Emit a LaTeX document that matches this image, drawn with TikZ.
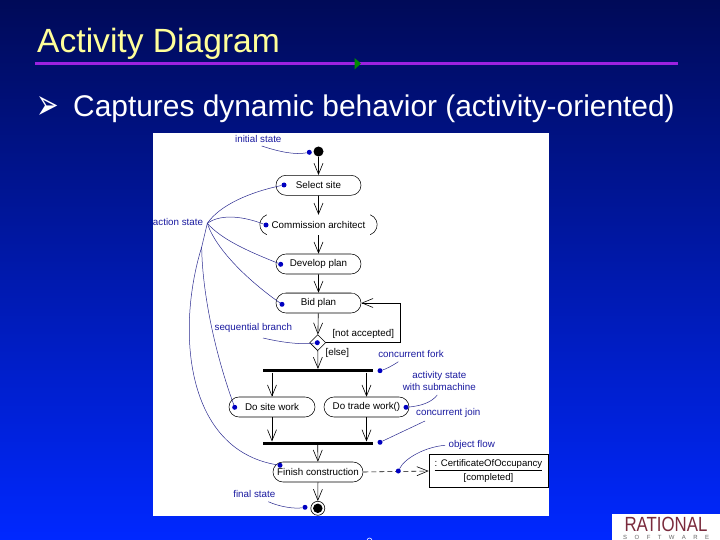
\documentclass[tikz,border=0pt]{standalone}
\usepackage{fontspec}
\setmainfont{Liberation Sans}
\newfontfamily\dejavu{DejaVu Sans}
\newfontfamily\softf[LetterSpace=124]{Liberation Sans}
\usetikzlibrary{shapes.geometric,shapes.misc,arrows.meta}
\definecolor{ann}{HTML}{1A1AA0}
\definecolor{annline}{HTML}{2A2A90}
\definecolor{dotblue}{HTML}{0000C0}
\definecolor{rulepurple}{HTML}{9C22E0}
\definecolor{maroon}{HTML}{7A2A3C}
\definecolor{bgtop}{HTML}{000A58}
\definecolor{bgmid}{HTML}{0018B0}
\definecolor{bgbot}{HTML}{0028FF}
\tikzset{
  act/.style={draw=black,line width=.55pt,rounded rectangle,minimum height=20bp,inner sep=0pt,font=\fontsize{9.8bp}{11bp}\selectfont,text=black},
  flow/.style={draw=black,line width=.6pt,-{Straight Barb[length=11bp,width=9bp,line width=.6pt]}},
  bar/.style={fill=black,draw=none,minimum height=3.2bp,inner sep=0pt},
  lbl/.style={text=ann,font=\fontsize{9.8bp}{12bp}\selectfont,inner sep=0pt,align=center},
  guard/.style={text=black,font=\fontsize{9.8bp}{12bp}\selectfont,inner sep=0pt},
  dot/.style={circle,fill=dotblue,draw=none,minimum size=5bp,inner sep=0pt},
  cn/.style={draw=annline,line width=.5pt},
}
\begin{document}
\begin{tikzpicture}[x=1bp,y=-1bp]
\useasboundingbox (0,0) rectangle (720,540);
\shade[top color=bgtop,middle color=bgmid,bottom color=bgbot] (0,0) rectangle (720,540);
\fill[white] (153,133) rectangle (549,516);
% title
\node[anchor=base west,inner sep=0pt,text={rgb,255:red,255;green,255;blue,153},font=\fontsize{33.6bp}{36bp}\selectfont] (title) at (37,52.5) {Activity Diagram};
\coordinate (ruleL) at (35,63.5);
\coordinate (ruleR) at (678,63.5);
\draw[rulepurple,line width=2.2bp] (ruleL) -- (ruleR);
\fill[green!55!black] (354.5,58) -- (361,63.5) -- (354.5,69.5) -- cycle;
\node[anchor=base west,inner sep=0pt,text=white,yscale=1.6,font=\dejavu\fontsize{27bp}{28bp}\selectfont] (bullet) at (36,119.5) {➢};
\node[anchor=base west,inner sep=0pt,text=white,font=\fontsize{29.9bp}{32bp}\selectfont] (sub) at (73,117) {Captures dynamic behavior (activity-oriented)};
% activity nodes
\node[circle,fill=black,minimum size=10bp,inner sep=0pt] (init) at (318.5,151.5) {};
\node[act,minimum width=85bp] (select) at (318.5,185.3) {Select site};
\node[font=\fontsize{9.8bp}{11bp}\selectfont,minimum width=117bp,minimum height=20bp,inner sep=0pt] (com) at (318.5,225) {Commission architect};
\draw[line width=.55pt] ([xshift=7bp]com.north west) arc[start angle=110,end angle=250,radius=10.6bp];
\draw[line width=.55pt] ([xshift=-7bp]com.north east) arc[start angle=70,end angle=-70,radius=10.6bp];
\node[act,minimum width=85bp] (dev) at (318.5,264) {Develop plan};
\node[act,minimum width=85bp] (bid) at (318.5,303) {Bid plan};
\draw[gray,line width=1bp] (283,293) -- (354,293);
\node[diamond,draw=black,line width=.55pt,minimum width=16bp,minimum height=16bp,inner sep=0pt,fill=white] (dec) at (317.7,342.7) {};
\node[bar,minimum width=110bp] (fork) at (318,370.7) {};
\node[act,minimum width=86bp] (site) at (272,407) {Do site work};
\node[act,minimum width=85bp] (trade) at (366.5,407) {Do trade work()};
\node[bar,minimum width=110bp] (join) at (317.7,443.3) {};
\node[act,minimum width=90bp] (finish) at (318,472) {Finish construction};
\node[circle,draw=black,line width=.6pt,minimum size=14bp,inner sep=0pt] (final) at (317.8,508.3) {};
\node[circle,fill=black,minimum size=9.5bp,inner sep=0pt] (finalin) at (final) {};
\node[draw=black,line width=.7pt,minimum width=119bp,minimum height=32.6bp,inner sep=0pt,align=center,font=\fontsize{9.6bp}{13.5bp}\selectfont] (obj) at (488.5,471) {\underline{: CertificateOfOccupancy}\\{}[completed]};
% control flows
\draw[flow] (init) -- (select);
\draw[flow] (select) -- (com);
\draw[flow] (com) -- (dev);
\draw[flow] (dev) -- (bid);
\draw[flow] (bid) -- (dec);
\draw[flow] (dec) -- (fork);
\draw[flow] (fork.south -| site.north) -- (site.north);
\draw[flow] (fork.south -| trade.north) -- (trade.north);
\draw[flow] (site.south) -- (join.north -| site.south);
\draw[flow] (trade.south) -- (join.north -| trade.south);
\draw[flow] (join) -- (finish);
\draw[flow] (finish) -- (final);
\coordinate (loop) at (400,303);
\draw[flow] (dec.east) -- (dec.east -| loop) -- (loop) -- (bid.east);
\draw[flow,dash pattern=on 5bp off 3bp] (finish.east) -- (obj.west);
% guards
\node[guard] (gna) at (363.3,333.7) {[not accepted]};
\node[guard] (gel) at (337.3,352.7) {[else]};
% labels
\node[lbl] (linit) at (258.3,139) {initial state};
\node[lbl] (laction) at (178,222) {action state};
\node[lbl] (lseq) at (253.3,328) {sequential branch};
\node[lbl] (lfork) at (411,354.3) {concurrent fork};
\node[lbl] (lsub) at (439.3,381.3) {activity state\\with submachine};
\node[lbl] (ljoin) at (448.3,413.3) {concurrent join};
\node[lbl] (lobj) at (471.7,444.7) {object flow};
\node[lbl] (lfinal) at (254.3,494.3) {final state};
% dots
\node[dot] (dinit) at (309.3,152.3) {};
\node[dot] (dsel) at (284,185) {};
\node[dot] (dcom) at (266,225) {};
\node[dot] (ddev) at (280.7,264.3) {};
\node[dot] (dbid) at (282,304.3) {};
\node[dot] (dsite) at (234.7,407.3) {};
\node[dot] (dfin) at (280,465.3) {};
\node[dot] (ddec) at (317.3,342.7) {};
\node[dot] (dfork) at (380,370.7) {};
\node[dot] (dsub) at (406,407.3) {};
\node[dot] (djoin) at (380,442.3) {};
\node[dot] (dobj) at (398.3,471) {};
\node[dot] (dfinal) at (305,507.3) {};
\coordinate (fan) at (207.3,223.3);
\coordinate (split) at (201.7,247);
% annotation connectors
\draw[cn] (261.7,146) .. controls (280,152) and (295,155) .. (dinit);
\draw[cn] (fan) .. controls (220,205) and (250,192) .. (dsel);
\draw[cn] (fan) .. controls (222,213) and (245,217) .. (dcom);
\draw[cn] (fan) .. controls (222,240) and (250,252) .. (ddev);
\draw[cn] (fan) .. controls (216,250) and (250,282) .. (dbid);
\draw[cn] (fan) -- (split);
\draw[cn] (split) .. controls (202,285) and (212,345) .. (dsite);
\draw[cn] (split) .. controls (176,330) and (185,450) .. (dfin);
\draw[cn] (263,338) .. controls (280,342) and (300,345) .. (ddec);
\draw[cn] (398.3,361.7) .. controls (392,366) and (386,369) .. (dfork);
\draw[cn] (437.3,395) .. controls (431,403) and (420,406) .. (dsub);
\draw[cn] (425,421) -- (djoin);
\draw[cn] (445,445.3) .. controls (425,447) and (405,458) .. (dobj);
\draw[cn] (268.3,501.7) .. controls (280,507) and (295,509) .. (dfinal);
% logo
\fill[white] (612,514) rectangle (720,540);
\node[anchor=base,inner sep=0pt,text=maroon,xscale=.82,font=\fontsize{20.5bp}{21bp}\selectfont] (logo) at (666,531.5) {RATIONAL};
\node[anchor=base west,inner sep=0pt,text=black!60,font=\softf\fontsize{6bp}{7bp}\selectfont] (soft) at (623,539) {SOFTWARE};
\begin{scope}
\clip (0,0) rectangle (720,540);
\draw[white,line width=.6pt] (369.5,540.5) circle[radius=2.5bp];
\end{scope}
\end{tikzpicture}
\end{document}
